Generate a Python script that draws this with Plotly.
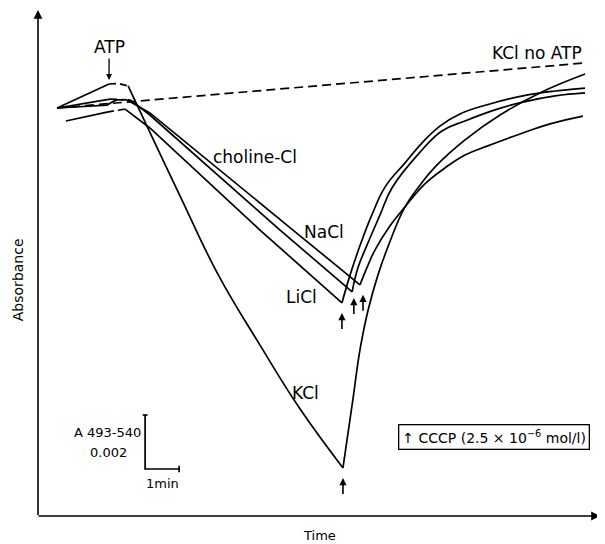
import plotly.graph_objects as go

FONT = "DejaVu Sans"
INK = "black"
LW = 1.7

# ---------------- data: time (min) vs absorbance A493-540 (units of 0.001) -------------
# KCl + ATP
kcl_pre_t = [0.56, 2.09]
kcl_pre_a = [15.11, 16.00]
kcl_gap_t = [2.09, 2.35, 2.65]
kcl_gap_a = [16.00, 16.02, 15.93]
kcl_fall_t = [2.65, 3.44, 4.18, 5.29, 6.53, 7.71, 8.97]
kcl_fall_a = [15.93, 13.81, 11.85, 8.96, 6.33, 3.96, 1.78]
kcl_rise_t = [8.97, 9.26, 9.47, 9.71, 10.0, 10.29, 10.79, 11.24, 11.68, 12.56, 13.59, 14.76, 16.09]
kcl_rise_a = [1.78, 4.30, 6.15, 7.63, 8.93, 9.96, 11.44, 12.26, 12.93, 13.93, 14.85, 15.67, 16.37]

# LiCl + ATP
licl_pre_t = [0.82, 2.03]
licl_pre_a = [14.63, 14.96]
licl_gap_t = [2.03, 2.56]
licl_gap_a = [14.96, 15.07]
licl_fall_t = [2.56, 3.29, 6.53, 8.94]
licl_fall_a = [15.07, 14.37, 10.59, 7.89]
licl_rise_t = [8.94, 9.18, 9.53, 9.82, 10.21, 10.79, 11.29, 11.82, 12.41, 13.29, 14.26, 15.21, 16.09]
licl_rise_a = [7.89, 8.93, 10.22, 11.15, 12.19, 13.07, 13.81, 14.44, 14.89, 15.26, 15.56, 15.74, 15.85]

# NaCl + ATP
nacl_pre_t = [0.56, 2.03, 2.18, 2.32]
nacl_pre_a = [15.11, 15.22, 15.33, 15.41]
nacl_gap_t = [2.32, 2.71]
nacl_gap_a = [15.41, 15.41]
nacl_fall_t = [2.71, 3.29, 7.12, 9.24]
nacl_fall_a = [15.41, 14.85, 10.59, 8.30]
nacl_rise_t = [9.24, 9.41, 9.68, 10.06, 10.41, 11.24, 11.88, 12.56, 13.44, 14.26, 15.21, 16.09]
nacl_rise_a = [8.30, 9.19, 10.04, 11.15, 12.15, 13.48, 14.26, 14.63, 15.04, 15.33, 15.56, 15.67]

# choline-Cl + ATP
chol_pre_t = [0.56, 2.12]
chol_pre_a = [15.11, 15.44]
chol_gap_t = [2.12, 2.62]
chol_gap_a = [15.44, 15.41]
chol_fall_t = [2.62, 3.29, 7.50, 9.47]
chol_fall_a = [15.41, 14.93, 10.59, 8.56]
chol_rise_t = [9.47, 9.71, 9.91, 10.35, 10.79, 11.38, 11.97, 12.56, 13.21, 14.18, 15.06, 16.03]
chol_rise_a = [8.56, 9.30, 9.85, 10.74, 11.44, 12.30, 12.89, 13.37, 13.70, 14.15, 14.52, 14.81]

# KCl, no ATP
noatp_t = [0.56, 16.09]
noatp_a = [15.11, 16.78]

# CCCP additions (arrow tips)
cccp_t = [8.97, 8.94, 9.29, 9.56]
cccp_a = [1.41, 7.52, 8.07, 8.19]

# ATP addition
atp_t = 2.09
atp_a = 16.15

# scale bar: 1 min x 0.002 absorbance
scale_t0, scale_a0 = 3.15, 1.74
scale_dt, scale_da = 1.0, 2.0

X_RANGE = [0, 16.53]
Y_RANGE = [0, 18.74]

fig = go.Figure()


def add_line(t, a, dash="solid", spline=False):
    fig.add_trace(go.Scatter(
        x=t, y=a, mode="lines", hoverinfo="skip", showlegend=False,
        line=dict(color=INK, width=LW, dash=dash,
                  shape="spline" if spline else "linear", smoothing=1.2),
    ))


DASH = "7px,4px"
for pre_t, pre_a, gap_t, gap_a, fall_t, fall_a, rise_t, rise_a, fall_spl in [
    (kcl_pre_t, kcl_pre_a, kcl_gap_t, kcl_gap_a, kcl_fall_t, kcl_fall_a, kcl_rise_t, kcl_rise_a, True),
    (licl_pre_t, licl_pre_a, licl_gap_t, licl_gap_a, licl_fall_t, licl_fall_a, licl_rise_t, licl_rise_a, False),
    (nacl_pre_t, nacl_pre_a, nacl_gap_t, nacl_gap_a, nacl_fall_t, nacl_fall_a, nacl_rise_t, nacl_rise_a, False),
    (chol_pre_t, chol_pre_a, chol_gap_t, chol_gap_a, chol_fall_t, chol_fall_a, chol_rise_t, chol_rise_a, False),
]:
    add_line(pre_t, pre_a)
    add_line(gap_t, gap_a, dash=DASH)
    add_line(fall_t, fall_a, spline=fall_spl)
    add_line(rise_t, rise_a, spline=True)

add_line(noatp_t, noatp_a, dash="9px,5px")

# scale bar
add_line([scale_t0, scale_t0, scale_t0 + scale_dt],
         [scale_a0 + scale_da, scale_a0, scale_a0])
add_line([scale_t0 - 0.07, scale_t0 + 0.07], [scale_a0 + scale_da] * 2)
add_line([scale_t0 + scale_dt] * 2, [scale_a0 - 0.12, scale_a0 + 0.12])

ann = []
# axes with arrow heads
ann.append(dict(x=0, y=1, xref="paper", yref="paper", ax=0, ay=506, text=" ",
                font=dict(size=1), borderpad=0,
                showarrow=True, arrowhead=2, arrowsize=1.1, arrowwidth=1.6, arrowcolor=INK))
ann.append(dict(x=1, y=0, xref="paper", yref="paper", ax=-562, ay=0, text=" ",
                font=dict(size=1), borderpad=0,
                showarrow=True, arrowhead=2, arrowsize=1.1, arrowwidth=1.6, arrowcolor=INK))

# CCCP arrows
for t, a in zip(cccp_t, cccp_a):
    ann.append(dict(x=t, y=a, xref="x", yref="y", ax=0, ay=17, text=" ",
                    font=dict(size=1), borderpad=0,
                    showarrow=True, arrowhead=2, arrowsize=0.9, arrowwidth=1.6, arrowcolor=INK))

# ATP arrow + label
ann.append(dict(x=atp_t, y=atp_a, xref="x", yref="y", ax=0, ay=-33, text="ATP",
                font=dict(family=FONT, size=17, color=INK),
                showarrow=True, arrowhead=2, arrowsize=0.9, arrowwidth=1.3, arrowcolor=INK,
                standoff=0))

labels = [
    ("choline-Cl", 6.38, 13.30),
    ("NaCl", 8.41, 10.52),
    ("LiCl", 7.76, 8.11),
    ("KCl", 7.88, 4.56),
    ("KCl no ATP", 14.68, 17.15),
]
for txt, t, a in labels:
    ann.append(dict(x=t, y=a, xref="x", yref="y", text=txt, showarrow=False,
                    xanchor="center", yanchor="middle",
                    font=dict(family=FONT, size=17, color=INK)))

# scale bar labels
ann.append(dict(x=scale_t0, y=scale_a0 + 1.35, xref="x", yref="y", text="A 493-540",
                showarrow=False, xanchor="right", yanchor="middle", xshift=-2,
                font=dict(family=FONT, size=13, color=INK)))
ann.append(dict(x=scale_t0 - 1.07, y=scale_a0 + 0.63, xref="x", yref="y", text="0.002",
                showarrow=False, xanchor="center", yanchor="middle",
                font=dict(family=FONT, size=13, color=INK)))
ann.append(dict(x=scale_t0 + scale_dt / 2, y=scale_a0 - 0.52, xref="x", yref="y", text="1min",
                showarrow=False, xanchor="center", yanchor="middle",
                font=dict(family=FONT, size=13, color=INK)))

# CCCP legend box
ann.append(dict(x=0.811, y=0.156, xref="paper", yref="paper",
                text="↑ CCCP (2.5 × 10<sup>−6</sup> mol/l)", showarrow=False,
                xanchor="center", yanchor="middle",
                bordercolor=INK, borderwidth=1.3, borderpad=3,
                font=dict(family=FONT, size=14, color=INK)))

# axis titles
ann.append(dict(x=0.5, y=0, xref="paper", yref="paper", yshift=-19, text="Time",
                showarrow=False, xanchor="center", yanchor="middle",
                font=dict(family=FONT, size=13, color=INK)))
ann.append(dict(x=0, y=0.466, xref="paper", yref="paper", xshift=-20, text="Absorbance",
                textangle=-90, showarrow=False, xanchor="center", yanchor="middle",
                font=dict(family=FONT, size=14, color=INK)))

# the page body adds an 8px offset; the figure is sized/margined to compensate
fig.update_layout(
    width=597, height=536,
    margin=dict(l=30, r=5, t=2, b=28),
    paper_bgcolor="white", plot_bgcolor="white",
    xaxis=dict(range=X_RANGE, visible=False, fixedrange=True),
    yaxis=dict(range=Y_RANGE, visible=False, fixedrange=True),
    annotations=ann,
    showlegend=False,
)

fig.write_html("out.html")
